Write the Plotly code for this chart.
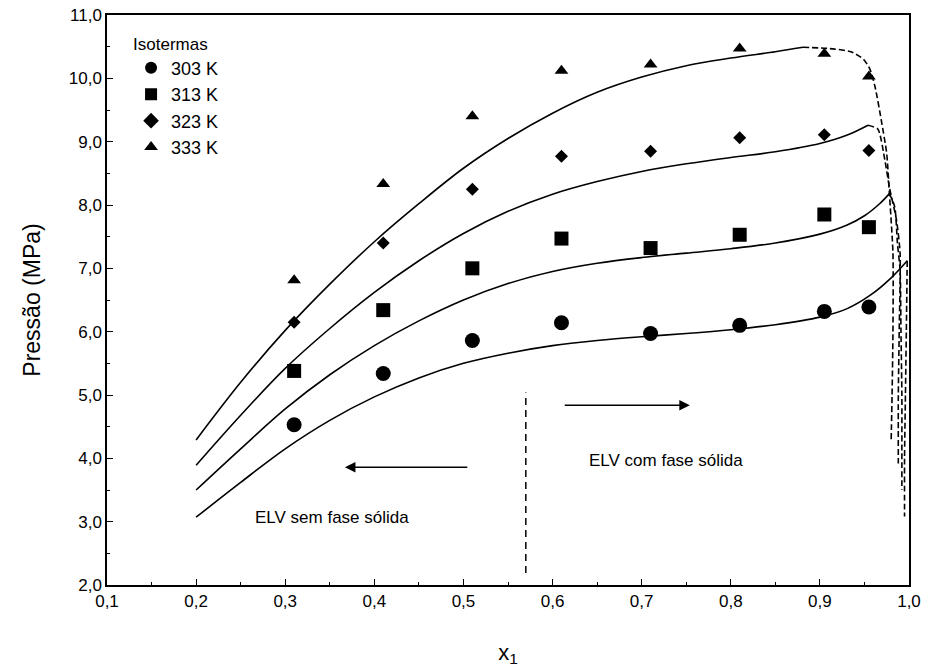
import plotly.graph_objects as go

# ---------------- data ----------------
x_exp = [0.31, 0.41, 0.51, 0.61, 0.71, 0.81, 0.905, 0.955]
p_303 = [4.53, 5.34, 5.86, 6.14, 5.97, 6.10, 6.32, 6.39]
p_313 = [5.38, 6.34, 7.00, 7.47, 7.32, 7.53, 7.85, 7.65]
p_323 = [6.15, 7.40, 8.25, 8.77, 8.85, 9.06, 9.11, 8.86]
p_333 = [6.81, 8.33, 9.40, 10.12, 10.22, 10.47, 10.39, 10.03]

# model (solid) curves
x_m303 = [0.20, 0.25, 0.30, 0.35, 0.40, 0.45, 0.50, 0.55, 0.60, 0.65, 0.70, 0.75, 0.80, 0.85, 0.90, 0.93, 0.957, 0.98, 0.998]
y_m303 = [3.07, 3.62, 4.15, 4.60, 4.97, 5.27, 5.50, 5.66, 5.78, 5.86, 5.92, 5.97, 6.03, 6.11, 6.23, 6.36, 6.58, 6.85, 7.12]
x_m313 = [0.20, 0.25, 0.30, 0.35, 0.40, 0.45, 0.50, 0.55, 0.60, 0.65, 0.70, 0.75, 0.80, 0.85, 0.90, 0.93, 0.95, 0.967, 0.978]
y_m313 = [3.50, 4.15, 4.78, 5.32, 5.78, 6.17, 6.50, 6.76, 6.95, 7.08, 7.17, 7.24, 7.31, 7.40, 7.54, 7.68, 7.83, 8.02, 8.18]
x_m323 = [0.20, 0.25, 0.30, 0.35, 0.40, 0.45, 0.50, 0.55, 0.60, 0.65, 0.70, 0.75, 0.80, 0.85, 0.90, 0.93, 0.954]
y_m323 = [3.89, 4.68, 5.42, 6.05, 6.62, 7.12, 7.55, 7.90, 8.17, 8.37, 8.53, 8.65, 8.75, 8.84, 8.97, 9.10, 9.26]
x_m333 = [0.20, 0.25, 0.30, 0.35, 0.40, 0.45, 0.50, 0.55, 0.60, 0.65, 0.70, 0.75, 0.80, 0.85, 0.881]
y_m333 = [4.29, 5.20, 6.02, 6.75, 7.42, 8.02, 8.58, 9.05, 9.45, 9.78, 10.02, 10.20, 10.32, 10.42, 10.49]

# model (dashed) branches
x_d303 = [0.998, 0.997, 0.996, 0.995, 0.995]
y_d303 = [7.12, 6.00, 5.00, 4.00, 3.08]
x_d313 = [0.978, 0.984, 0.987, 0.990, 0.991, 0.992, 0.992, 0.992]
y_d313 = [8.18, 7.97, 7.40, 6.97, 6.00, 5.00, 4.00, 3.50]
x_d323 = [0.954, 0.965, 0.973, 0.978, 0.986, 0.990, 0.989, 0.988, 0.988]
y_d323 = [9.26, 9.20, 8.70, 8.28, 7.76, 7.24, 6.00, 5.00, 3.92]
x_d333 = [0.881, 0.911, 0.935, 0.949, 0.956, 0.962, 0.969, 0.975, 0.978, 0.982, 0.982, 0.981, 0.980]
y_d333 = [10.49, 10.47, 10.42, 10.30, 10.15, 9.86, 9.33, 8.81, 8.18, 7.24, 6.00, 5.00, 4.29]

labels = ["303 K", "313 K", "323 K", "333 K"]
symbols = ["circle", "square", "diamond", "triangle-up"]
sizes = [15, 14, 10, 12]

# ---------------- figure ----------------
fig = go.Figure()
FONT = "Liberation Sans, Arial, sans-serif"

for xm, ym in [(x_m303, y_m303), (x_m313, y_m313), (x_m323, y_m323), (x_m333, y_m333)]:
    fig.add_trace(go.Scatter(x=xm, y=ym, mode="lines", line=dict(color="black", width=1.6, shape="spline", smoothing=1.0),
                             showlegend=False, hoverinfo="skip"))
for xd, yd in [(x_d303, y_d303), (x_d313, y_d313), (x_d323, y_d323), (x_d333, y_d333)]:
    fig.add_trace(go.Scatter(x=xd, y=yd, mode="lines", line=dict(color="black", width=1.6, dash="6px,3px", shape="spline", smoothing=0.6),
                             showlegend=False, hoverinfo="skip"))

for lab, sym, sz, p in zip(labels, symbols, sizes, [p_303, p_313, p_323, p_333]):
    fig.add_trace(go.Scatter(x=x_exp, y=p, mode="markers", name=lab,
                             marker=dict(symbol=sym, size=sz, color="black", line=dict(width=0))))

# boundary between regions
fig.add_shape(type="line", x0=0.57, x1=0.57, y0=2.19, y1=5.04, xref="x", yref="y",
              line=dict(color="black", width=1.5, dash="7px,5px"))

# arrows
fig.add_annotation(x=0.367, y=3.86, ax=0.506, ay=3.86, xref="x", yref="y", axref="x", ayref="y",
                   text="", showarrow=True, arrowhead=2, arrowsize=1.4, arrowwidth=1.5, arrowcolor="black")
fig.add_annotation(x=0.754, y=4.84, ax=0.612, ay=4.84, xref="x", yref="y", axref="x", ayref="y",
                   text="", showarrow=True, arrowhead=2, arrowsize=1.4, arrowwidth=1.5, arrowcolor="black")

fig.add_annotation(x=0.352, y=3.06, xref="x", yref="y", text="ELV sem fase sólida", showarrow=False,
                   font=dict(family=FONT, size=17, color="black"))
fig.add_annotation(x=0.727, y=3.97, xref="x", yref="y", text="ELV com fase sólida", showarrow=False,
                   font=dict(family=FONT, size=17, color="black"))

axis_common = dict(showgrid=False, zeroline=False, showline=True, linecolor="black", linewidth=1.5,
                   mirror=True, ticks="inside", ticklen=6, tickwidth=1.2, tickcolor="black", automargin=False,
                   tickfont=dict(family=FONT, size=17, color="black"))

fig.update_xaxes(range=[0.1, 1.0], tickvals=[0.1, 0.2, 0.3, 0.4, 0.5, 0.6, 0.7, 0.8, 0.9, 1.0], tickformat=".1f",
                 minor=dict(ticks="inside", ticklen=3, tickcolor="black", dtick=0.05, tick0=0.1),
                 title=dict(text="x<sub>1</sub>", font=dict(family=FONT, size=22, color="black"), standoff=34),
                 **axis_common)
fig.update_yaxes(range=[2.0, 11.0], tickvals=[2, 3, 4, 5, 6, 7, 8, 9, 10, 11], tickformat=".1f",
                 minor=dict(ticks="inside", ticklen=3, tickcolor="black", dtick=0.5, tick0=2),
                 title=dict(text="Pressão (MPa)", font=dict(family=FONT, size=23, color="black"), standoff=22),
                 **axis_common)

fig.update_layout(
    width=929, height=669,
    margin=dict(l=107, r=20, t=15, b=84),
    paper_bgcolor="white", plot_bgcolor="white",
    separators=",.",
    font=dict(family=FONT, color="black"),
    legend=dict(x=0.03, y=0.978, xanchor="left", yanchor="top", bgcolor="rgba(0,0,0,0)",
                title=dict(text="Isotermas", font=dict(family=FONT, size=17, color="black")),
                font=dict(family=FONT, size=18, color="black"), tracegroupgap=0, itemsizing="constant"),
)

fig.write_html("out.html")
